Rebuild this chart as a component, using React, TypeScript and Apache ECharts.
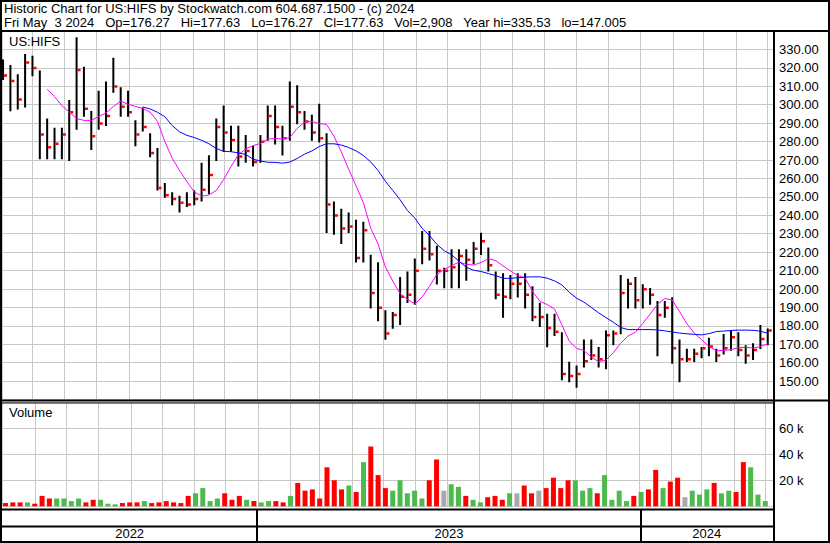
import React, { useEffect, useRef } from 'react';
import * as echarts from 'echarts';

// ---- Data (weekly) ----
const DAY = 86400000;
// mid-week (Wednesday) date of each week, 2022-05-04 .. 2024-05-01
const weekDates: number[] = Array.from({ length: 105 }, (_, i) => new Date(2022, 4, 4 + 7 * i).getTime());

const high = [
  324, 321, 316, 327, 326, 318, 292, 287, 287, 302,
  336, 320, 296, 307, 312, 325, 309, 307, 291, 298,
  284, 276, 257, 252, 250, 252, 253, 268, 272, 292,
  299, 288, 288, 283, 277, 283, 299, 299, 288, 312,
  310, 296, 294, 300, 284, 247, 243, 241, 237, 236,
  218, 214, 188, 187, 206, 209, 216, 231, 231, 223,
  211, 221, 221, 221, 225, 230, 222, 209, 208, 207,
  208, 208, 201, 192, 186, 186, 176, 160, 158, 172,
  172, 168, 177, 177, 207, 205, 206, 202, 200, 193,
  193, 195, 172, 167, 167, 168, 173, 167, 175, 177,
  176, 169, 170, 180, 178,
];
const low = [
  314, 297, 298, 299, 316, 271, 271, 271, 271, 270,
  287, 294, 276, 287, 289, 307, 294, 294, 278, 286,
  272, 254, 250, 246, 242, 245, 246, 248, 252, 270,
  275, 275, 267, 269, 267, 269, 281, 279, 273, 281,
  290, 287, 281, 280, 231, 230, 225, 231, 215, 215,
  190, 183, 173, 179, 181, 193, 192, 214, 216, 203,
  201, 201, 201, 205, 214, 219, 210, 195, 185, 195,
  196, 190, 183, 180, 169, 175, 151, 150, 147, 158,
  162, 158, 157, 170, 176, 190, 190, 190, 192, 164,
  185, 160, 150, 161, 161, 163, 164, 161, 165, 167,
  164, 160, 162, 168, 170,
];
const close = [
  316, 313, 303, 323, 320, 284, 277, 279, 284, 296,
  319, 298, 283, 290, 294, 310, 299, 296, 284, 288,
  274, 255, 251, 249, 247, 246, 249, 254, 262, 288,
  285, 281, 272, 275, 269, 280, 294, 288, 282, 299,
  296, 291, 285, 282, 246, 240, 233, 234, 217, 232,
  198, 190, 176, 186, 196, 197, 210, 222, 219, 210,
  210, 212, 218, 216, 222, 226, 213, 197, 196, 203,
  203, 197, 185, 185, 179, 177, 154, 153, 154, 161,
  164, 162, 175, 176, 198, 203, 194, 200, 197, 186,
  190, 168, 162, 162, 165, 168, 169, 164, 168, 174,
  167, 164, 167, 173, 177.63,
];
// volume in thousands
const volume = [
  2.5, 3, 3, 3, 2, 8, 6, 6, 6, 4,
  6, 3, 5, 5, 2, 1.5, 2.5, 3, 3, 4,
  2.5, 3, 4, 3, 2.5, 8, 10, 14, 4, 6,
  10, 5, 8, 5, 4, 3, 4, 4, 3, 8,
  18, 12, 13, 6, 30, 20, 13, 16, 11, 34,
  46, 24, 14, 12, 20, 10, 12, 6, 20, 36,
  12, 17, 15, 8, 5, 3, 7, 8, 5, 10,
  10, 16, 10, 12, 14, 22, 14, 20, 20, 12,
  14, 10, 24, 5, 12, 4, 8, 11, 13, 28,
  14, 19, 22, 7, 12, 9, 13, 18, 10, 12,
  11, 34, 30, 9, 4,
];
const maFast = [
  null, null, null, null, null, null, 308.4, 304.4, 299.5, 296,
  292.5, 291.5, 291.5, 293.6, 295.5, 299, 302, 300.3, 299.1, 298,
  296, 291, 280, 271, 264.3, 258.3, 252.7, 250.4, 251, 253.5,
  259.4, 266.5, 272.8, 276, 277.8, 279, 281.3, 281.7, 281.4, 282.2,
  287.1, 290.5, 290.9, 289.8, 289.3, 282.9, 274.5, 265, 256, 247,
  233, 224.5, 212, 204.3, 197.5, 194.4, 191.9, 195.7, 201.5, 207.9,
  210.6, 212.7, 214.6, 213.4, 213, 214.4, 216.5, 215.4, 212.5, 209.8,
  207.4, 205.9, 198.8, 193.3, 191.6, 189.2, 180.5, 171.8, 167.8, 166.6,
  163.1, 160.6, 161.4, 165.4, 170.6, 174.5, 176.6, 181.3, 186.4, 191.7,
  194.8, 194.1, 187.8, 181.2, 176.1, 172.5, 168.9, 166.5, 166.7, 167.1,
  168.2, 168.4, 168, 168.8, 170.3,
];
const maSlow = [
  null, null, null, null, null, null, null, null, null, null,
  null, null, null, null, null, null, null, null, null, 298.8,
  297.7, 295.9, 293.5, 288.7, 285.3, 283.4, 282.2, 280.7, 278.8, 276.3,
  274.7, 274.5, 273.9, 273, 270.5, 269.4, 268.8, 268.7, 268.3, 268.9,
  270.8, 273.2, 274.9, 277.3, 278.8, 278.8, 278.1, 276.8, 275, 272.5,
  269, 264.3, 258.5, 253.5, 248.4, 242.6, 238.5, 232.9, 229, 224.2,
  220.8, 218.6, 215.1, 211.8, 210.2, 209.5, 208.4, 207.3, 205.8, 205.8,
  206.1, 206.5, 206.6, 206.6, 205.9, 204.4, 202.2, 198.3, 195, 192.9,
  190, 187.1, 184.5, 182, 179.1, 178, 178, 178, 178, 177.8,
  177.3, 176.7, 176.1, 175.7, 175.4, 175.1, 175.8, 176.9, 177.2, 177.5,
  177.7, 177.7, 177.6, 177.1, 176,
];
const yearLabels = ['2022', '2023', '2024'];
const yearStarts = [new Date(2022, 4, 3).getTime(), new Date(2023, 0, 1).getTime(), new Date(2024, 0, 1).getTime()];

const titleLine1 = 'Historic Chart for US:HIFS by Stockwatch.com 604.687.1500 - (c) 2024';
const titleLine2 = 'Fri May  3 2024   Op=176.27   Hi=177.63   Lo=176.27   Cl=177.63   Vol=2,908   Year hi=335.53   lo=147.005';

const AXIS_MIN = new Date(2022, 4, 3).getTime();
const AXIS_MAX = new Date(2024, 4, 6).getTime();

const FONT = 'Liberation Sans, Arial, sans-serif';
const RED = '#ff0000';
const GREEN = '#4cbb4c';
const GRAY = '#a8a8a8';
const GRID_COLOR = '#c8c8c8';

function volColor(i: number) {
  if (i === 0) return RED;
  if (close[i] > close[i - 1]) return GREEN;
  if (close[i] < close[i - 1]) return RED;
  return GRAY;
}

function timeAxis(gridIndex: number, split: boolean) {
  return {
    type: 'time',
    gridIndex,
    min: AXIS_MIN,
    max: AXIS_MAX,
    splitNumber: 30,
    minInterval: 28 * DAY,
    maxInterval: 31 * DAY,
    axisLabel: { show: false },
    axisTick: { show: false },
    axisLine: { show: false },
    splitLine: { show: split, lineStyle: { color: GRID_COLOR, width: 1 } },
  };
}

export default function App() {
  const ref = useRef<HTMLDivElement>(null);
  useEffect(() => {
    if (!ref.current) return;
    const chart = echarts.init(ref.current, undefined, { renderer: 'svg' });

    const ohlc = weekDates.map((d, i) => [d, high[i], low[i], close[i]]);
    const vol = weekDates.map((d, i) => ({ value: [d, volume[i]], itemStyle: { color: volColor(i) } }));
    const fast = weekDates.map((d, i) => [d, maFast[i]]).filter((p) => p[1] != null);
    const slow = weekDates.map((d, i) => [d, maSlow[i]]).filter((p) => p[1] != null);

    const lineEl = (x1: number, y1: number, x2: number, y2: number, w: number) => ({
      type: 'line',
      silent: true,
      z: 100,
      shape: { x1, y1, x2, y2 },
      style: { stroke: '#000', lineWidth: w },
    });
    const textEl = (x: number, y: number, text: string) => ({
      type: 'text',
      silent: true,
      z: 100,
      style: { x, y, text, fill: '#000', font: `13px ${FONT}`, textVerticalAlign: 'top', textAlign: 'left' },
    });

    // lay the second header line out piece by piece so the wide gaps survive
    const measure = document.createElement('canvas').getContext('2d');
    if (measure) measure.font = `13px ${FONT}`;
    const headerPieces: any[] = [];
    let hx = 4;
    const re = /(\S+(?: \S+)*)( {2,}|$)/g;
    let m: RegExpExecArray | null;
    while ((m = re.exec(titleLine2)) !== null && m[0].length > 0) {
      headerPieces.push(textEl(hx, 16, m[1]));
      hx += measure ? measure.measureText(m[1] + m[2]).width : (m[0].length) * 7;
    }

    chart.setOption({
      animation: false,
      backgroundColor: '#ffffff',
      textStyle: { fontFamily: FONT },
      grid: [
        { left: 2, top: 31, width: 771, height: 368.6 },
        { left: 2, top: 402.3, width: 771, height: 104 },
        { left: 2, top: 510, width: 771, height: 31 },
      ],
      xAxis: [timeAxis(0, true), timeAxis(1, true), timeAxis(2, false)],
      yAxis: [
        {
          type: 'value',
          gridIndex: 0,
          position: 'right',
          min: 140,
          max: 340,
          interval: 10,
          axisLine: { show: false },
          axisTick: { show: false },
          splitLine: { show: true, lineStyle: { color: GRID_COLOR, width: 1 } },
          axisLabel: {
            margin: 6,
            color: '#000',
            fontSize: 13,
            fontFamily: FONT,
            formatter: (v: number) => (v <= 140 || v >= 340 ? '' : v.toFixed(2)),
          },
        },
        {
          type: 'value',
          gridIndex: 1,
          position: 'right',
          min: 0,
          max: 80,
          interval: 20,
          axisLine: { show: false },
          axisTick: { show: false },
          splitLine: { show: true, lineStyle: { color: GRID_COLOR, width: 1 } },
          axisLabel: {
            margin: 6,
            color: '#000',
            fontSize: 13,
            fontFamily: FONT,
            formatter: (v: number) => (v <= 0 || v >= 80 ? '' : `${v} k`),
          },
        },
        { type: 'value', gridIndex: 2, min: 0, max: 1, show: false },
      ],
      series: [
        {
          name: 'US:HIFS',
          type: 'custom',
          xAxisIndex: 0,
          yAxisIndex: 0,
          z: 3,
          clip: true,
          encode: { x: 0, y: [1, 2, 3] },
          data: ohlc,
          renderItem: (params: any, api: any) => {
            const t = api.value(0);
            const pH = api.coord([t, api.value(1)]);
            const pL = api.coord([t, api.value(2)]);
            const pC = api.coord([t, api.value(3)]);
            return {
              type: 'group',
              children: [
                {
                  type: 'line',
                  shape: { x1: pH[0], y1: pH[1] - 1, x2: pL[0], y2: pL[1] + 1 },
                  style: { stroke: '#000', lineWidth: 2 },
                },
                {
                  type: 'rect',
                  shape: { x: pC[0] + 1, y: pC[1] - 1, width: 3, height: 2.5 },
                  style: { fill: RED },
                },
              ],
            };
          },
        },
        {
          name: 'MA fast',
          type: 'line',
          xAxisIndex: 0,
          yAxisIndex: 0,
          z: 4,
          data: fast,
          showSymbol: false,
          symbol: 'none',
          lineStyle: { color: '#ff00ff', width: 1 },
        },
        {
          name: 'MA slow',
          type: 'line',
          xAxisIndex: 0,
          yAxisIndex: 0,
          z: 4,
          data: slow,
          showSymbol: false,
          symbol: 'none',
          lineStyle: { color: '#0000ff', width: 1 },
        },
        {
          name: 'Volume',
          type: 'bar',
          xAxisIndex: 1,
          yAxisIndex: 1,
          barWidth: 5,
          data: vol,
        },
        {
          name: 'years',
          type: 'line',
          xAxisIndex: 2,
          yAxisIndex: 2,
          data: [[AXIS_MIN, 0]],
          symbol: 'none',
          lineStyle: { opacity: 0 },
          markArea: {
            silent: true,
            itemStyle: { color: 'rgba(0,0,0,0)' },
            label: { show: true, position: 'inside', color: '#000', fontSize: 13, fontFamily: FONT },
            data: yearLabels.map((name, i) => [
              { name, xAxis: yearStarts[i], yAxis: 0 },
              { xAxis: i + 1 < yearStarts.length ? yearStarts[i + 1] : AXIS_MAX, yAxis: 0.46 },
            ]),
          },
          markLine: {
            silent: true,
            symbol: ['none', 'none'],
            label: { show: false },
            lineStyle: { color: '#000', width: 2, type: 'solid' },
            data: yearStarts.slice(1).map((x) => ({ xAxis: x })),
          },
        },
      ],
      graphic: [
        { type: 'rect', silent: true, z: 100, shape: { x: 1, y: 1, width: 828, height: 541 }, style: { fill: 'none', stroke: '#000', lineWidth: 2 } },
        lineEl(0, 31, 830, 31, 2),
        lineEl(774, 31, 774, 542, 2),
        lineEl(0, 400.5, 830, 400.5, 2),
        lineEl(0, 403, 774, 403, 1),
        lineEl(0, 509.5, 774, 509.5, 2),
        lineEl(0, 526.5, 774, 526.5, 2),
        textEl(4, 2, titleLine1),
        ...headerPieces,
        textEl(9, 35, 'US:HIFS'),
        textEl(9, 406, 'Volume'),
      ],
    });
    return () => chart.dispose();
  }, []);
  return (
    <div
      ref={ref}
      style={{ position: 'fixed', left: 0, top: 0, width: 830, height: 543, background: '#fff' }}
    />
  );
}
